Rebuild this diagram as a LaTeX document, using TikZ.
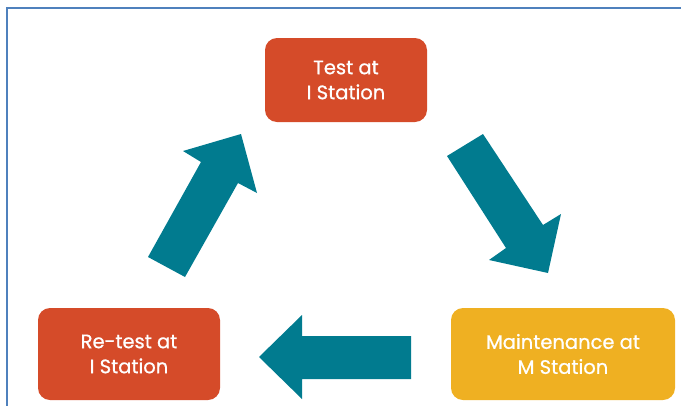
\documentclass[tikz,border=0pt]{standalone}
\usepackage{fontspec}
\setmainfont{Poppins}
\newfontfamily\boxfont{Poppins}[FakeBold=0.8]
\definecolor{boxred}{HTML}{D54B29}
\definecolor{boxyellow}{HTML}{EFB022}
\definecolor{teal}{HTML}{017B8F}
\definecolor{frameblue}{HTML}{4F81BD}
\begin{document}
\begin{tikzpicture}[x=1pt,y=-1pt,
  stepbox/.style={rounded corners=12pt, inner sep=0pt, text=white, align=center,
     font=\boxfont\fontsize{19.5}{25}\selectfont},
  bigarrow/.style={fill=teal, draw=none}]
\useasboundingbox (0,0) rectangle (681,405);
\begin{scope}
\clip (0,0) rectangle (681,405);
\draw[frameblue, line width=1.5pt] (7,410) -- (7,8) -- (690,8);
\end{scope}
\node[stepbox, fill=boxred, minimum width=162pt, minimum height=84pt] (test) at (346,80) {Test at\\I Station};
\node[stepbox, fill=boxred, minimum width=182pt, minimum height=92pt] (retest) at (129,354) {Re-test at\\I Station};
\node[stepbox, fill=boxyellow, minimum width=224pt, minimum height=92pt] (maint) at (563,354) {Maintenance at\\M Station};
% up arrow (retest -> test)
\fill[bigarrow] (148,257) -- (201,162) -- (183,151) -- (241,134) -- (257,193) -- (238,183) -- (185,277) -- cycle;
% down arrow (test -> maint)
\fill[bigarrow] (447,156) -- (483,134) -- (543,225) -- (561,214) -- (548,273) -- (489,260) -- (506,248) -- cycle;
% left arrow (maint -> retest)
\fill[bigarrow] (411,336) -- (411,379) -- (302,379) -- (302,399) -- (259,357) -- (302,315) -- (302,336) -- cycle;
\end{tikzpicture}
\end{document}
